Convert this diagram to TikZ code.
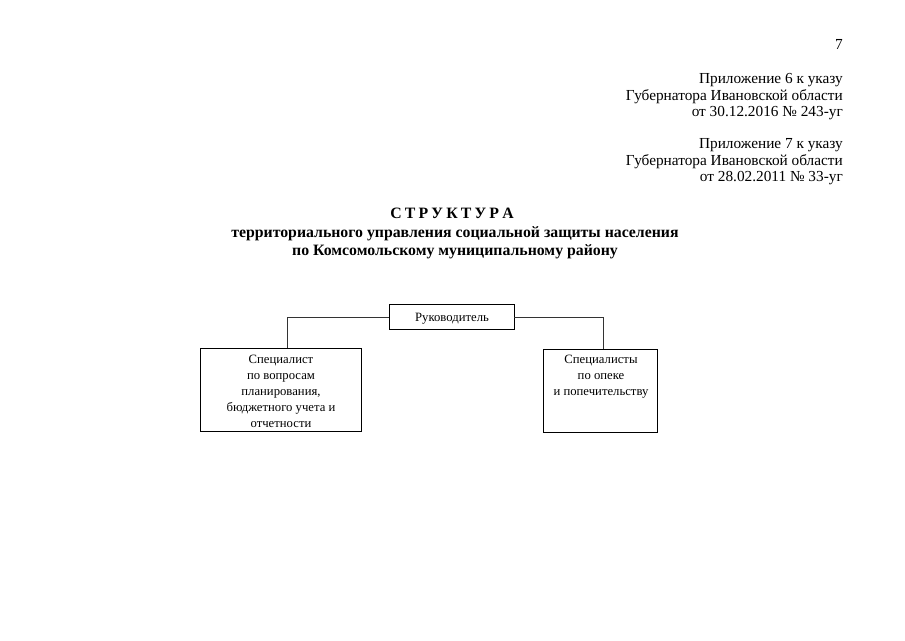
\documentclass[tikz,border=0pt]{standalone}
\usepackage{fontspec}
\setmainfont{Liberation Serif}
\newcommand{\ltrsp}{\hspace{3.2pt}}
\begin{document}
\begin{tikzpicture}[x=1pt,y=-1pt,
  hdr/.style={anchor=base east,inner sep=0pt,font=\fontsize{15.3}{16}\selectfont},
  ttl/.style={anchor=base,inner sep=0pt,font=\fontsize{15.8}{16}\selectfont\bfseries},
  box/.style={draw,line width=0.9pt,inner sep=0pt},
  btxt/.style={anchor=base,inner sep=0pt,font=\fontsize{12.7}{13}\selectfont},
  conn/.style={line width=0.9pt,draw=black!80}]
\useasboundingbox (0,0) rectangle (905,640);
% header
\node[hdr] (pg) at (843,49) {7};
\node[hdr] (a1) at (843,83) {Приложение 6 к указу};
\node[hdr] (a2) at (843,100) {Губернатора Ивановской области};
\node[hdr] (a3) at (843,116) {от 30.12.2016 № 243-уг};
\node[hdr] (b1) at (843,148) {Приложение 7 к указу};
\node[hdr] (b2) at (843,165) {Губернатора Ивановской области};
\node[hdr] (b3) at (843,181) {от 28.02.2011 № 33-уг};
% title
\node[ttl] (t1) at (452,218) {С\ltrsp Т\ltrsp Р\ltrsp У\ltrsp К\ltrsp Т\ltrsp У\ltrsp Р\ltrsp А};
\node[ttl] (t2) at (455,237) {территориального управления социальной защиты населения};
\node[ttl] (t3) at (455,255) {по Комсомольскому муниципальному району};
% boxes
\node[box,minimum width=125pt,minimum height=25pt] (head) at (451.5,317) {};
\node[btxt] (headt) at (452,321) {Руководитель};
\node[box,minimum width=161pt,minimum height=83pt] (left) at (280.5,390) {};
\node[btxt] (l1) at (281,363) {Специалист};
\node[btxt] (l2) at (281,379) {по вопросам};
\node[btxt] (l3) at (281,395) {планирования,};
\node[btxt] (l4) at (281,411) {бюджетного учета и};
\node[btxt] (l5) at (281,427) {отчетности};
\node[box,minimum width=114pt,minimum height=83pt] (right) at (600,390.5) {};
\node[btxt] (r1) at (601,363) {Специалисты};
\node[btxt] (r2) at (601,379) {по опеке};
\node[btxt] (r3) at (601,395) {и попечительству};
% connectors
\draw[conn] (head.west) -| (left.north -| 287,0);
\draw[conn] (head.east) -| (right.north -| 603,0);
\end{tikzpicture}
\end{document}
